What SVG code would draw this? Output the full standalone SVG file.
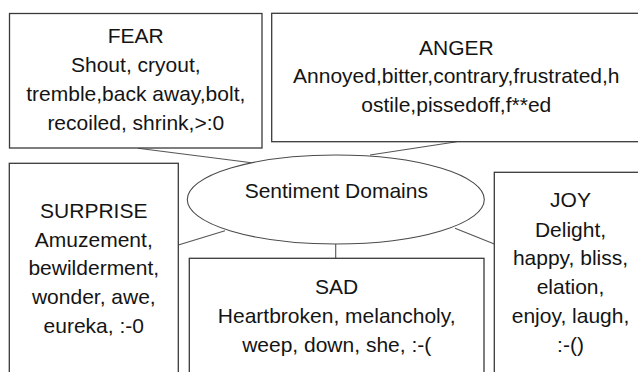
<svg xmlns="http://www.w3.org/2000/svg" width="638" height="372" viewBox="0 0 638 372">
<style>
.box{fill:#fff;stroke:#3a3a3a;stroke-width:1.3}
.ell{fill:#fff;stroke:#4a4a4a;stroke-width:1.1}
.con{stroke:#555;stroke-width:1.1;fill:none}
text{font-family:"Liberation Sans",Arial,sans-serif;font-size:21px;fill:#141414;text-anchor:middle}
</style>
<rect width="638" height="372" fill="#fff"/>
<g id="connectors">
<line class="con" x1="138" y1="148.3" x2="251.7" y2="162.7"/>
<line class="con" x1="456.7" y1="141.7" x2="370" y2="155"/>
<line class="con" x1="178.3" y1="245" x2="225" y2="230.7"/>
<line class="con" x1="335.7" y1="244" x2="335.7" y2="258.3"/>
<line class="con" x1="455" y1="228.3" x2="494.3" y2="244"/>
</g>
<g id="fear">
<rect class="box" x="9.5" y="13.5" width="252.5" height="134.5"/>
<text x="135.8" y="42.7">FEAR</text>
<text x="135.8" y="71.7">Shout, cryout,</text>
<text x="135.8" y="100.7">tremble,back away,bolt,</text>
<text x="135.8" y="129.7">recoiled, shrink,&gt;:0</text>
</g>
<g id="anger">
<rect class="box" x="271.7" y="13.3" width="370" height="128.4"/>
<text x="456.3" y="55">ANGER</text>
<text x="456.3" y="83.3">Annoyed,bitter,contrary,frustrated,h</text>
<text x="456.3" y="111.7">ostile,pissedoff,f**ed</text>
</g>
<g id="sentiment">
<ellipse class="ell" cx="335.8" cy="199.5" rx="148.5" ry="44.5"/>
<text x="336.3" y="198.3">Sentiment Domains</text>
</g>
<g id="surprise">
<rect class="box" x="9.3" y="163.3" width="169" height="220"/>
<text x="93.8" y="218.3">SURPRISE</text>
<text x="93.8" y="246.7">Amuzement,</text>
<text x="93.8" y="275">bewilderment,</text>
<text x="93.8" y="304.3">wonder, awe,</text>
<text x="93.8" y="333.3">eureka, :-0</text>
</g>
<g id="sad">
<rect class="box" x="189.3" y="258.3" width="294.7" height="130"/>
<text x="336.7" y="294">SAD</text>
<text x="336.7" y="322.7">Heartbroken, melancholy,</text>
<text x="336.7" y="351.7">weep, down, she, :-(</text>
</g>
<g id="joy">
<rect class="box" x="494.3" y="172.3" width="152.4" height="220"/>
<text x="570.5" y="207.3">JOY</text>
<text x="570.5" y="236.7">Delight,</text>
<text x="570.5" y="265">happy, bliss,</text>
<text x="570.5" y="294.3">elation,</text>
<text x="570.5" y="323.3">enjoy, laugh,</text>
<text x="570.5" y="351.7">:-()</text>
</g>
</svg>
